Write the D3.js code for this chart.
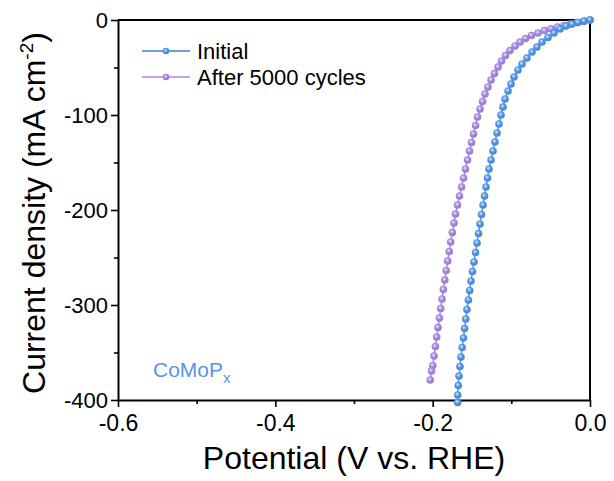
<!DOCTYPE html>
<html>
<head>
<meta charset="utf-8">
<script src="https://cdn.jsdelivr.net/npm/d3@7"></script>
<style>
  html, body { margin: 0; padding: 0; background: #fff; }
  svg { display: block; }
</style>
</head>
<body>
<svg id="chart" width="614" height="481"></svg>
<script>
const fontFamily = "'Liberation Sans', Arial, Helvetica, sans-serif";

// Series: potential (V vs. RHE) and current density (mA cm-2)
const initialV = [0, -0.0076, -0.0153, -0.0229, -0.0305, -0.0381, -0.0458, -0.0534, -0.0610, -0.0674,
  -0.0737, -0.0801, -0.0864, -0.0915, -0.0966, -0.1004, -0.1042, -0.1080, -0.1106, -0.1131,
  -0.1157, -0.1182, -0.1208, -0.1233, -0.1258, -0.1284, -0.1303, -0.1322, -0.1341, -0.1360,
  -0.1379, -0.1398, -0.1417, -0.1436, -0.1455, -0.1475, -0.1494, -0.1513, -0.1529, -0.1546,
  -0.1564, -0.1579, -0.1594, -0.1609, -0.1625, -0.1640, -0.1653, -0.1665, -0.1675, -0.1682, -0.1682];
const initialJ = [0, -1.1, -2.6, -4.2, -6.3, -9.5, -13.7, -18.4, -23.2, -28.4,
  -33.7, -40.0, -46.3, -52.6, -60.0, -67.4, -74.7, -83.2, -91.6, -100.0,
  -109.5, -118.9, -128.4, -137.9, -147.4, -156.8, -166.3, -175.8, -185.3, -194.7,
  -204.7, -214.7, -224.7, -234.7, -244.7, -254.7, -264.7, -274.7, -284.7, -294.7,
  -304.7, -314.7, -324.7, -334.7, -344.7, -354.7, -364.7, -374.7, -384.7, -394.7, -402.6];

const afterV = [0, -0.0083, -0.0165, -0.0248, -0.0330, -0.0413, -0.0496, -0.0578, -0.0661, -0.0744,
  -0.0820, -0.0890, -0.0953, -0.1017, -0.1074, -0.1125, -0.1169, -0.1214, -0.1258, -0.1297,
  -0.1335, -0.1366, -0.1398, -0.1430, -0.1455, -0.1481, -0.1506, -0.1532, -0.1557, -0.1583,
  -0.1608, -0.1633, -0.1659, -0.1684, -0.1710, -0.1729, -0.1750, -0.1771, -0.1790, -0.1809,
  -0.1828, -0.1846, -0.1864, -0.1881, -0.1898, -0.1914, -0.1932, -0.1949, -0.1965, -0.1983,
  -0.1999, -0.2015, -0.2031];
const afterJ = [0, -1.6, -2.6, -4.2, -5.8, -7.4, -9.2, -11.1, -13.7, -16.3,
  -19.5, -23.2, -27.4, -32.1, -37.4, -43.2, -49.5, -56.3, -63.2, -70.5,
  -77.9, -85.8, -93.7, -102.1, -111.1, -120.0, -128.9, -137.9, -147.4, -156.8,
  -166.3, -175.8, -185.3, -194.7, -204.2, -213.7, -223.7, -233.7, -243.7, -253.7,
  -263.7, -273.7, -283.7, -293.7, -303.7, -313.7, -323.7, -333.7, -343.7, -353.7,
  -363.7, -369.5, -378.9];

const xMajorTicks = [-0.6, -0.4, -0.2, 0.0];
const xMinorTicks = [-0.5, -0.3, -0.1];
const yMajorTicks = [0, -100, -200, -300, -400];
const yMinorTicks = [-50, -150, -250, -350];

const seriesNames = ["Initial", "After 5000 cycles"];
const seriesColors = ["#5297e8", "#a68ae2"];
const seriesLight = ["#e2efff", "#f1ebff"];
const legendLineColors = ["#6c9fe0", "#c7a3f2"];

const series = [
  { name: seriesNames[0], pts: initialV.map((v, i) => [v, initialJ[i]]) },
  { name: seriesNames[1], pts: afterV.map((v, i) => [v, afterJ[i]]) }
];

const width = 614, height = 481;
const margin = { top: 20, right: 24, bottom: 81, left: 118 };
const svg = d3.select("#chart");

const x = d3.scaleLinear().domain([-0.6, 0]).range([margin.left, width - margin.right]);
const y = d3.scaleLinear().domain([-400, 0]).range([height - margin.bottom, margin.top]);

// sphere-like marker gradients
const defs = svg.append("defs");
seriesColors.forEach((c, i) => {
  const g = defs.append("radialGradient")
    .attr("id", "ball" + i)
    .attr("cx", "42%").attr("cy", "38%").attr("r", "62%");
  g.append("stop").attr("offset", "0%").attr("stop-color", seriesLight[i]);
  g.append("stop").attr("offset", "45%").attr("stop-color", c);
  g.append("stop").attr("offset", "100%").attr("stop-color", d3.color(c).darker(0.35));
});

// frame (top and right)
svg.append("path")
  .attr("d", `M${x(-0.6)},${y(0)}H${x(0)}V${y(-400)}`)
  .attr("fill", "none")
  .attr("stroke", "#000")
  .attr("stroke-width", 2);

// axes
function styleAxis(g, size) {
  g.select(".domain").attr("stroke-width", 2);
  g.selectAll(".tick line").attr("stroke-width", 1.6);
  g.selectAll("text")
    .attr("font-family", fontFamily)
    .attr("font-size", size)
    .attr("fill", "#000");
}

svg.append("g")
  .attr("transform", `translate(0,${y(-400)})`)
  .call(d3.axisBottom(x).tickValues(xMinorTicks).tickSize(4).tickFormat(""))
  .call(g => g.select(".domain").remove())
  .call(g => g.selectAll(".tick line").attr("stroke-width", 1.6));

svg.append("g")
  .attr("transform", `translate(${x(-0.6)},0)`)
  .call(d3.axisLeft(y).tickValues(yMinorTicks).tickSize(4).tickFormat(""))
  .call(g => g.select(".domain").remove())
  .call(g => g.selectAll(".tick line").attr("stroke-width", 1.6));

svg.append("g")
  .attr("transform", `translate(0,${y(-400)})`)
  .call(d3.axisBottom(x).tickValues(xMajorTicks).tickSize(7).tickSizeOuter(0).tickPadding(8))
  .call(g => styleAxis(g, "23px"))
  .call(g => g.selectAll("text").text(d => d3.format(".1f")(d).replace("−", "-")));

svg.append("g")
  .attr("transform", `translate(${x(-0.6)},0)`)
  .call(d3.axisLeft(y).tickValues(yMajorTicks).tickSize(7).tickSizeOuter(0).tickPadding(3))
  .call(g => styleAxis(g, "22px"))
  .call(g => g.selectAll("text").text(d => String(d)));

// axis titles
svg.append("text")
  .attr("x", (x(-0.6) + x(0)) / 2)
  .attr("y", 469)
  .attr("text-anchor", "middle")
  .attr("font-family", fontFamily)
  .attr("font-size", "32px")
  .attr("fill", "#000")
  .text("Potential (V vs. RHE)");

const yTitle = svg.append("text")
  .attr("transform", `translate(45,${(y(0) + y(-400)) / 2 + 3}) rotate(-90)`)
  .attr("text-anchor", "middle")
  .attr("font-family", fontFamily)
  .attr("font-size", "32px")
  .attr("fill", "#000");
yTitle.append("tspan").text("Current density (mA cm");
yTitle.append("tspan").attr("font-size", "19px").attr("dy", -12).text("-2");
yTitle.append("tspan").attr("dy", 12).text(")");

// curves
const line = d3.line().x(d => x(d[0])).y(d => y(d[1]));
series.forEach((s, i) => {
  svg.append("path")
    .datum(s.pts)
    .attr("d", line)
    .attr("fill", "none")
    .attr("stroke", seriesColors[i])
    .attr("stroke-width", 1.5);
});
series.slice().reverse().forEach((s, k) => {
  const i = series.length - 1 - k;
  svg.append("g").selectAll("circle")
    .data(s.pts)
    .enter()
    .append("circle")
    .attr("cx", d => x(d[0]))
    .attr("cy", d => y(d[1]))
    .attr("r", 3.8)
    .attr("fill", `url(#ball${i})`);
});

// legend
const legend = svg.append("g").attr("transform", "translate(142,51)");
seriesNames.forEach((name, i) => {
  const row = legend.append("g").attr("transform", `translate(0,${i * 26})`);
  row.append("line")
    .attr("x1", 0).attr("x2", 48)
    .attr("stroke", legendLineColors[i])
    .attr("stroke-width", 1.8);
  row.append("circle")
    .attr("cx", 24).attr("r", 3.3)
    .attr("fill", `url(#ball${i})`);
  row.append("text")
    .attr("x", 55)
    .attr("y", 8)
    .attr("font-family", fontFamily)
    .attr("font-size", "22px")
    .attr("fill", "#000")
    .text(name);
});

// sample label
const label = svg.append("text")
  .attr("x", 153)
  .attr("y", 377)
  .attr("font-family", fontFamily)
  .attr("font-size", "21px")
  .attr("fill", "#5596e6");
label.append("tspan").text("CoMoP");
label.append("tspan").attr("font-size", "15px").attr("dy", 6).text("x");
</script>
</body>
</html>
